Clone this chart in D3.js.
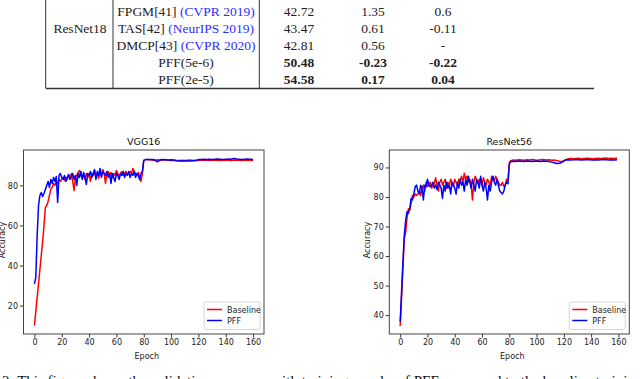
<!DOCTYPE html>
<html>
<head>
<meta charset="utf-8">
<script src="https://cdn.jsdelivr.net/npm/d3@7"></script>
<style>
  body { margin: 0; background: #fff; }
  svg { display: block; }
  .serif { font-family: "Liberation Serif", "Times New Roman", serif; }
  .sans { font-family: "DejaVu Sans", sans-serif; }
</style>
</head>
<body>
<svg id="chart" width="640" height="379"></svg>
<script>
// ---- table rows (top of the page) ----
var methods = ["FPGM[41]", "TAS[42]", "DMCP[43]", "PFF(5e-6)", "PFF(2e-5)"];
var venues = ["(CVPR 2019)", "(NeurIPS 2019)", "(CVPR 2020)", "", ""];
var colA = ["42.72", "43.47", "42.81", "50.48", "54.58"];
var colB = ["1.35", "0.61", "0.56", "-0.23", "0.17"];
var colC = ["0.6", "-0.11", "-", "-0.22", "0.04"];
var boldRows = [false, false, false, true, true];

// ---- VGG16 curves ----
var vggEpochs = d3.range(0, 81).concat(d3.range(82, 161, 2));
var vggBase = [10, 17, 24, 31, 38, 45, 52, 60, 69, 70, 72, 75, 78, 79, 81, 80, 82, 81, 83, 82,
  83, 84, 82.5, 84, 83, 85, 84, 86, 82, 77.5, 84, 85, 86.5, 87.5, 85, 84, 85, 83, 86, 84,
  85.5, 82, 86, 85, 87, 84, 86, 83.5, 87, 85, 88, 86, 81, 86, 87, 85, 86.5, 84, 86, 85,
  87.5, 86, 84, 86, 87, 85, 86, 87, 85.5, 86, 87, 86, 88.5, 87, 86, 85, 86.5, 84, 82, 86,
  92.5,
  93, 92.8, 92.7, 92.4, 92.8, 92.6, 92.7, 92.8, 92.6, 92.5, 92.6, 92.4, 92.5, 92.6, 92.5, 92.6, 92.7, 92.5, 92.6, 92.5,
  92.6, 92.7, 92.6, 92.5, 92.6, 92.7, 92.6, 92.5, 92.6, 92.7, 92.6, 92.5, 92.6, 92.7, 92.6, 92.5, 92.6, 92.7, 92.6, 92.5];
var vggPff = [30.8, 34, 55, 70, 75, 76.5, 74.5, 76, 78, 80, 82, 79, 83, 81, 84, 82, 84.5, 71.5, 85, 86,
  84, 83, 85, 82, 84, 85.5, 83, 84, 86, 83, 85, 80, 86, 84, 87, 83, 86.5, 84, 80.5, 86,
  85, 87, 84, 86, 88, 83, 87, 85, 88.5, 84, 87, 86, 85, 87, 84, 86, 81, 86, 84, 82,
  86, 85, 83, 86, 85, 87, 84, 86, 85, 87, 84, 86, 85, 87, 84, 86, 85, 83, 86, 87,
  92.5,
  93, 93, 92.9, 92.8, 91.8, 92.8, 92.9, 92.8, 92.7, 92.8, 92.7, 92.3, 92.2, 92.3, 92.2, 92.3, 92.2, 92.3, 92.4, 92.9,
  93, 93.1, 93, 93.1, 93, 93.1, 93.2, 93.1, 93, 93.1, 93.2, 93.1, 93.5, 93.2, 93.1, 93, 93.1, 93.2, 93.1, 93];

// ---- ResNet56 curves ----
var resEpochs = d3.range(0, 82).concat(d3.range(83, 161, 2));
var resBase = [36.3, 46, 56, 66, 68, 73, 76, 75.5, 78, 80.5, 80, 81, 80.5, 81, 82, 80.5, 83, 84, 82, 85,
  83.5, 84, 85, 83, 84, 84.5, 86.5, 84, 82, 85, 86, 84, 85, 86, 83, 85, 84, 86, 85, 83.5,
  86, 85, 84, 86, 85.5, 87, 85, 88, 86, 87, 85, 86, 84, 79, 85, 87, 86, 84.5, 86, 85,
  84, 86.5, 85, 84, 86, 85, 84, 87, 86, 85.5, 87, 86, 85, 84, 84, 85, 83.5, 84, 86, 85.5,
  91.5, 92.3,
  92.5, 92.4, 92.6, 92.5, 92.4, 92.6, 92.5, 92.7, 92.5, 92.4, 92.6, 92.7, 92.5, 92.6, 92.4, 92.5, 92.3, 92.1, 92.0, 92.5,
  92.9, 93, 92.9, 93, 93.1, 92.9, 93, 93.1, 93, 92.9, 93, 93.1, 93, 93.1, 93.2, 93, 93.1, 93, 93.2, 93.1];
var resPff = [37.7, 48, 58, 67, 72, 75, 74.5, 76, 79.5, 79, 81, 83.5, 84, 82, 81, 84, 83, 79, 84, 83.5,
  86, 84, 83.5, 84, 85, 83, 84, 82.5, 85, 84, 83, 79.5, 84, 82, 85, 83, 84, 81, 85, 84,
  83, 81, 85, 83, 86, 84, 85, 82, 86, 84, 87, 85, 83, 86, 84, 82, 86, 85, 83, 87,
  84, 82, 85, 83, 79, 84, 82, 85, 87, 85, 84, 86, 84, 82, 81.5, 81, 82, 84, 85, 84.5,
  91, 92,
  92.1, 92, 92.2, 92.1, 92, 92.2, 92.1, 92, 92.2, 92.1, 92, 92.2, 92.1, 92, 91.8, 91.6, 91.3, 91.4, 91.9, 92.5,
  92.6, 92.5, 92.6, 92.7, 92.6, 92.5, 92.6, 92.7, 92.6, 92.5, 92.6, 92.5, 92.6, 92.7, 92.6, 92.5, 92.6, 92.5, 92.6, 92.5];

var epochTicks = [0, 20, 40, 60, 80, 100, 120, 140, 160];
var vggTicks = [20, 40, 60, 80];
var resTicks = [40, 50, 60, 70, 80, 90];
var seriesNames = ["Baseline", "PFF"];
var seriesColors = ["#ff0000", "#0000ff"];

var svg = d3.select("#chart");

// ===== table =====
var rowY = d3.scaleLinear().domain([0, 4]).range([16, 84]);
var tbl = svg.append("g").attr("class", "serif").style("font-size", "13.5px").style("fill", "#222");

[45.7, 113, 259.3].forEach(function(x) {
  tbl.append("line").attr("x1", x).attr("x2", x).attr("y1", 0).attr("y2", 88)
    .style("stroke", "#333").style("stroke-width", 1);
});
tbl.append("line").attr("x1", 45.7).attr("x2", 594).attr("y1", 88.5).attr("y2", 88.5)
  .style("stroke", "#333").style("stroke-width", 1.5);

tbl.append("text").attr("x", 80).attr("y", rowY(1)).attr("text-anchor", "middle").text("ResNet18");

methods.forEach(function(m, i) {
  var t = tbl.append("text").attr("x", 186).attr("y", rowY(i)).attr("text-anchor", "middle");
  t.append("tspan").text(m);
  if (venues[i]) t.append("tspan").style("fill", "#2e2eff").text(" " + venues[i]);
  [[colA, 299], [colB, 373], [colC, 443]].forEach(function(c) {
    tbl.append("text").attr("x", c[1]).attr("y", rowY(i)).attr("text-anchor", "middle")
      .style("font-weight", boldRows[i] ? "bold" : "normal").text(c[0][i]);
  });
});

// ===== line charts =====
function drawChart(opt) {
  var g = svg.append("g").attr("class", "sans");
  var x = d3.scaleLinear().domain([-8, 168]).range([opt.left, opt.right]);
  var y = d3.scaleLinear().domain(opt.yDomain).range([334, 150]);

  var xAxis = g.append("g").attr("transform", "translate(0,334)")
    .call(d3.axisBottom(x).tickValues(epochTicks).tickSize(3.5).tickPadding(2));
  var yAxis = g.append("g").attr("transform", "translate(" + opt.left + ",0)")
    .call(d3.axisLeft(y).tickValues(opt.ticks).tickSize(3.5).tickPadding(2));
  [xAxis, yAxis].forEach(function(a) {
    a.select(".domain").remove();
    a.selectAll("line").style("stroke", "#333");
    a.selectAll("text").style("font-size", "8px").style("fill", "#222").style("font-family", "DejaVu Sans");
  });

  var line = d3.line().x(function(d) { return x(d[0]); }).y(function(d) { return y(d[1]); });
  [opt.base, opt.pff].forEach(function(vals, k) {
    g.append("path").datum(opt.epochs.map(function(e, i) { return [e, vals[i]]; }))
      .attr("d", line).style("fill", "none").style("stroke", seriesColors[k])
      .style("stroke-width", 1.5).style("stroke-linejoin", "round");
  });

  g.append("rect").attr("x", opt.left).attr("y", 150)
    .attr("width", opt.right - opt.left).attr("height", 184)
    .style("fill", "none").style("stroke", "#444").style("stroke-width", 1);

  g.append("text").attr("x", (opt.left + opt.right) / 2).attr("y", 145)
    .attr("text-anchor", "middle").style("font-size", "9.5px").style("fill", "#111").text(opt.title);
  g.append("text").attr("x", (opt.left + opt.right) / 2 + 3).attr("y", 359)
    .attr("text-anchor", "middle").style("font-size", "8px").style("fill", "#222").text("Epoch");
  g.append("text").attr("transform", "translate(" + opt.ylabX + ",240) rotate(-90)")
    .attr("text-anchor", "middle").style("font-size", "8px").style("fill", "#222").text("Accuracy");

  // legend
  var lx = opt.right - 60, ly = 302;
  g.append("rect").attr("x", lx).attr("y", ly).attr("width", 56).attr("height", 27.5).attr("rx", 2)
    .style("fill", "#fff").style("stroke", "#ccc").style("stroke-width", 0.8);
  seriesNames.forEach(function(n, k) {
    var yy = ly + 7.5 + k * 11;
    g.append("line").attr("x1", lx + 3).attr("x2", lx + 18).attr("y1", yy).attr("y2", yy)
      .style("stroke", seriesColors[k]).style("stroke-width", 1.5);
    g.append("text").attr("x", lx + 23).attr("y", yy + 3).style("font-size", "8px")
      .style("fill", "#222").text(n);
  });
}

drawChart({ title: "VGG16", left: 23.5, right: 264, yDomain: [5.8, 97.7], ticks: vggTicks,
  epochs: vggEpochs, base: vggBase, pff: vggPff, ylabX: 5 });
drawChart({ title: "ResNet56", left: 389.3, right: 629.3, yDomain: [33.6, 95.9], ticks: resTicks,
  epochs: resEpochs, base: resBase, pff: resPff, ylabX: 370 });

// ===== caption (its lower half is off the page, as in the source) =====
svg.append("text").attr("class", "serif").attr("x", 2).attr("y", 386)
  .style("font-size", "15px").style("fill", "#111")
  .text("2: This figure shows the validation accuracy with training epochs of PFF compared to the baseline training");
</script>
</body>
</html>
